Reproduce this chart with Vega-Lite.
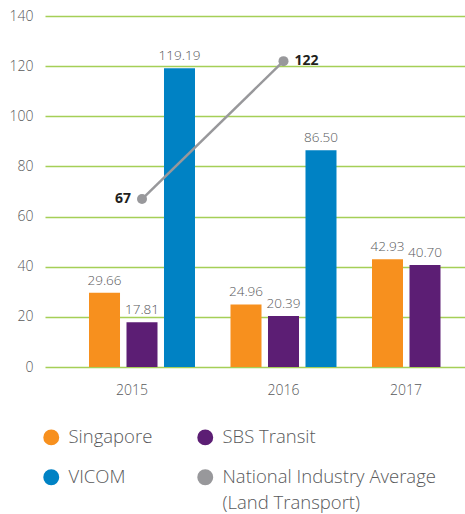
{
  "$schema": "https://vega.github.io/schema/vega-lite/v6.json",
  "width": 420,
  "height": 351,
  "autosize": "none",
  "padding": {"left": 45, "top": 16, "right": 0, "bottom": 147},
  "background": "white",
  "config": {"view": {"stroke": null}, "font": "Open Sans", "style": {"guide-label": {"lineHeight": 26}}},
  "datasets": {
    "bars": [
      {"year": "2015", "series": "Singapore", "value": 29.66},
      {"year": "2015", "series": "SBS Transit", "value": 17.81},
      {"year": "2015", "series": "VICOM", "value": 119.19},
      {"year": "2016", "series": "Singapore", "value": 24.96},
      {"year": "2016", "series": "SBS Transit", "value": 20.39},
      {"year": "2016", "series": "VICOM", "value": 86.50},
      {"year": "2017", "series": "Singapore", "value": 42.93},
      {"year": "2017", "series": "SBS Transit", "value": 40.70}
    ],
    "avg": [
      {"year": "2015", "value": 67},
      {"year": "2016", "value": 122}
    ]
  },
  "layer": [
    {
      "data": {"name": "bars"},
      "mark": {"type": "bar"},
      "encoding": {
        "x": {
          "field": "year", "type": "nominal",
          "scale": {"domain": ["2015", "2016", "2017"], "range": [0, 477], "paddingInner": 0.2509, "paddingOuter": 0.311},
          "axis": {
            "title": null, "domain": false, "ticks": false, "grid": false,
            "labelAngle": 0, "labelPadding": 16, "labelFontSize": 14, "labelFontWeight": 300, "labelColor": "#58595b",
            "labelOffset": {"condition": [{"test": "datum.value === '2015'", "value": -10}, {"test": "datum.value === '2017'", "value": -19}], "value": 0}
          }
        },
        "xOffset": {
          "field": "series", "type": "nominal",
          "scale": {"domain": ["Singapore", "SBS Transit", "VICOM"], "paddingInner": 0.173, "paddingOuter": 0}
        },
        "y": {
          "field": "value", "type": "quantitative",
          "scale": {"domain": [0, 140]},
          "axis": {
            "title": null, "domain": false, "ticks": false,
            "values": [0, 20, 40, 60, 80, 100, 120, 140],
            "grid": true, "gridColor": "#a5cf57", "gridWidth": 1.5,
            "labelPadding": 12, "labelFontSize": 14, "labelFontWeight": 300, "labelColor": "#58595b"
          }
        },
        "color": {
          "field": "series", "type": "nominal",
          "scale": {
            "domain": ["Singapore", "SBS Transit", "VICOM", "National Industry Average (Land Transport)"],
            "range": ["#f7901e", "#5c1e74", "#0082c4", "#98989b"]
          },
          "legend": {
            "orient": "none", "legendX": -3, "legendY": 412,
            "title": null, "columns": 2, "direction": "horizontal",
            "symbolType": "circle", "symbolSize": 254, "symbolStrokeWidth": 0, "symbolOpacity": 1,
            "labelFontSize": 18.5, "labelFontWeight": 300, "labelColor": "#58595b", "labelOffset": 8, "labelLimit": 400,
            "columnPadding": 43, "rowPadding": 21,
            "labelExpr": "datum.label === 'National Industry Average (Land Transport)' ? ['National Industry Average', '(Land Transport)'] : datum.label"
          }
        }
      }
    },
    {
      "data": {"name": "bars"},
      "mark": {"type": "text", "baseline": "bottom", "dy": -5, "fontSize": 13.5, "fontWeight": 300, "color": "#58595b"},
      "encoding": {
        "x": {"field": "year", "type": "nominal"},
        "xOffset": {"field": "series", "type": "nominal"},
        "y": {"field": "value", "type": "quantitative"},
        "text": {"field": "value", "type": "quantitative", "format": ".2f"}
      }
    },
    {
      "data": {"name": "avg"},
      "mark": {"type": "line", "color": "#98989b", "strokeWidth": 2.5},
      "encoding": {
        "x": {"field": "year", "type": "nominal"},
        "y": {"field": "value", "type": "quantitative"}
      }
    },
    {
      "data": {"name": "avg"},
      "mark": {"type": "point", "filled": true, "color": "#98989b", "size": 100, "opacity": 1},
      "encoding": {
        "x": {"field": "year", "type": "nominal"},
        "y": {"field": "value", "type": "quantitative"}
      }
    },
    {
      "data": {"name": "avg"},
      "transform": [{"filter": "datum.year === '2015'"}],
      "mark": {"type": "text", "align": "right", "baseline": "middle", "dx": -11, "fontSize": 14, "fontWeight": "bold", "color": "#231f20"},
      "encoding": {
        "x": {"field": "year", "type": "nominal"},
        "y": {"field": "value", "type": "quantitative"},
        "text": {"field": "value", "type": "quantitative"}
      }
    },
    {
      "data": {"name": "avg"},
      "transform": [{"filter": "datum.year === '2016'"}],
      "mark": {"type": "text", "align": "left", "baseline": "middle", "dx": 11, "fontSize": 14, "fontWeight": "bold", "color": "#231f20"},
      "encoding": {
        "x": {"field": "year", "type": "nominal"},
        "y": {"field": "value", "type": "quantitative"},
        "text": {"field": "value", "type": "quantitative"}
      }
    }
  ]
}
